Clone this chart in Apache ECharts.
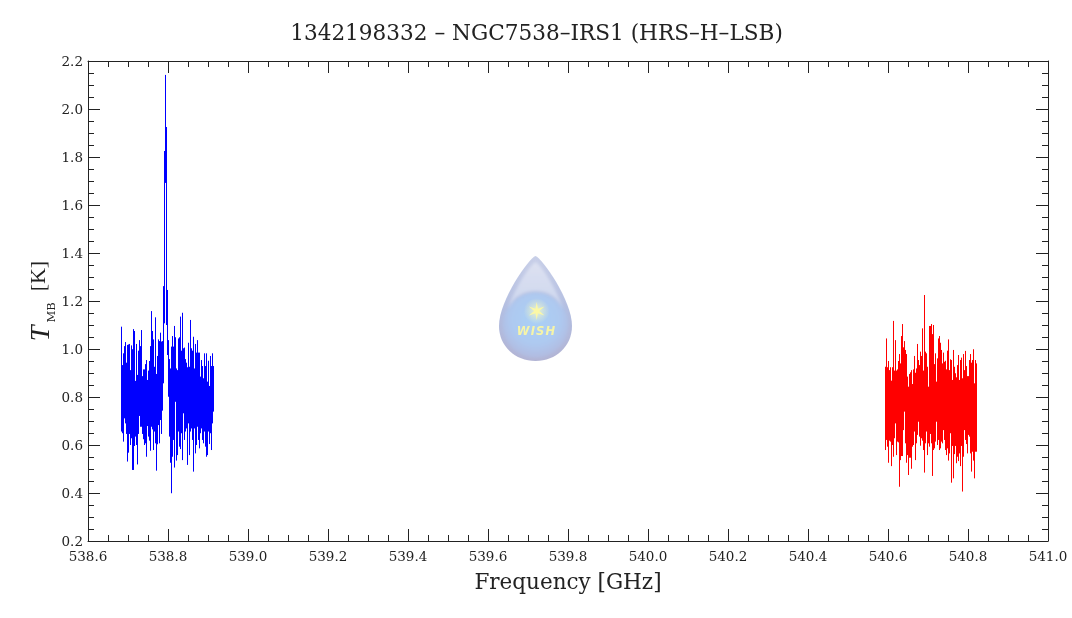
<!DOCTYPE html>
<html><head><meta charset="utf-8">
<style>html,body{margin:0;padding:0;background:#fff}#c{width:1072px;height:618px}</style>
<script src="https://cdn.jsdelivr.net/npm/echarts@6/dist/echarts.min.js"></script>
</head><body><div id="c"></div>
<script>
const chartTitle = '1342198332 – NGC7538–IRS1 (HRS–H–LSB)';
const xName = 'Frequency [GHz]';

const blueFreq = [538.68375,538.68625,538.68875,538.69125,538.69375,538.69625,538.69875,538.70125,538.70375,538.70625,
538.70875,538.71125,538.71375,538.71625,538.71875,538.72125,538.72375,538.72625,538.72875,538.73125,
538.73375,538.73625,538.73875,538.74125,538.74375,538.74625,538.74875,538.75125,538.75375,538.75625,
538.75875,538.76125,538.76375,538.76625,538.76875,538.77125,538.77375,538.77625,538.77875,538.78125,
538.78375,538.78625,538.78875,538.79125,538.79375,538.79625,538.79875,538.80125,538.80375,538.80625,
538.80875,538.81125,538.81375,538.81625,538.81875,538.82125,538.82375,538.82625,538.82875,538.83125,
538.83375,538.83625,538.83875,538.84125,538.84375,538.84625,538.84875,538.85125,538.85375,538.85625,
538.85875,538.86125,538.86375,538.86625,538.86875,538.87125,538.87375,538.87625,538.87875,538.88125,
538.88375,538.88625,538.88875,538.89125,538.89375,538.89625,538.89875,538.90125,538.90375,538.90625,
538.90875,538.91125,538.91375];
const blueHigh = [1.093,0.933,0.982,1.012,1.029,0.943,1.017,1.019,1.021,0.912,
1.015,0.999,1.083,1.075,0.867,1.021,0.892,0.993,1.037,1.012,
1.079,0.887,0.915,0.915,0.937,0.954,0.871,0.910,0.950,1.012,
1.158,1.075,1.040,0.926,1.132,0.896,0.971,1.040,1.033,1.068,
1.031,1.033,1.262,1.825,2.142,1.925,1.246,1.037,0.958,0.919,
1.010,1.054,1.010,1.096,1.049,0.919,0.912,1.044,1.049,1.135,
0.993,1.151,1.003,1.006,0.958,0.943,0.924,1.026,0.926,1.121,
1.003,0.993,1.051,0.919,1.021,0.985,1.037,0.985,0.985,0.885,
0.954,0.929,0.878,0.982,0.929,0.982,0.864,0.951,0.846,0.971,
0.929,0.982,0.929];
const blueLow = [0.656,0.649,0.614,0.711,0.690,0.646,0.531,0.568,0.646,0.600,
0.628,0.496,0.496,0.596,0.635,0.600,0.519,0.646,0.721,0.676,
0.676,0.646,0.624,0.600,0.607,0.551,0.679,0.635,0.618,0.576,
0.676,0.665,0.579,0.656,0.607,0.493,0.603,0.683,0.607,0.704,
0.646,0.743,0.857,1.107,1.692,1.100,0.975,0.801,0.635,0.526,
0.399,0.551,0.621,0.506,0.780,0.535,0.558,0.656,0.593,0.583,
0.649,0.537,0.732,0.621,0.656,0.669,0.517,0.690,0.558,0.656,
0.669,0.621,0.489,0.669,0.565,0.600,0.676,0.621,0.586,0.649,
0.669,0.621,0.607,0.656,0.593,0.551,0.558,0.656,0.604,0.649,
0.579,0.690,0.739];

const redFreq = [540.59375,540.59625,540.59875,540.60125,540.60375,540.60625,540.60875,540.61125,540.61375,540.61625,
540.61875,540.62125,540.62375,540.62625,540.62875,540.63125,540.63375,540.63625,540.63875,540.64125,
540.64375,540.64625,540.64875,540.65125,540.65375,540.65625,540.65875,540.66125,540.66375,540.66625,
540.66875,540.67125,540.67375,540.67625,540.67875,540.68125,540.68375,540.68625,540.68875,540.69125,
540.69375,540.69625,540.69875,540.70125,540.70375,540.70625,540.70875,540.71125,540.71375,540.71625,
540.71875,540.72125,540.72375,540.72625,540.72875,540.73125,540.73375,540.73625,540.73875,540.74125,
540.74375,540.74625,540.74875,540.75125,540.75375,540.75625,540.75875,540.76125,540.76375,540.76625,
540.76875,540.77125,540.77375,540.77625,540.77875,540.78125,540.78375,540.78625,540.78875,540.79125,
540.79375,540.79625,540.79875,540.80125,540.80375,540.80625,540.80875,540.81125,540.81375,540.81625,
540.81875,540.82125];
const redHigh = [0.926,1.044,0.924,0.950,0.912,0.924,0.868,0.924,1.117,0.910,
1.037,0.910,0.915,0.950,0.979,0.940,1.054,1.104,1.007,1.033,
0.996,0.979,0.885,0.843,0.896,0.903,0.912,0.854,0.915,0.971,
0.901,0.919,1.021,0.954,0.933,0.989,0.971,1.086,0.910,1.225,
0.989,0.982,0.926,0.843,1.096,1.096,1.104,1.062,1.100,0.937,
0.982,0.864,0.961,1.044,1.054,1.026,0.996,0.940,0.985,0.947,
0.951,0.915,0.993,1.040,0.912,0.957,0.954,0.871,0.996,0.926,
0.899,0.882,0.933,0.975,0.871,0.954,0.964,0.878,0.979,0.912,
0.992,0.929,0.887,0.887,0.954,0.979,0.943,0.954,0.999,0.857,
0.954,0.940];
const redLow = [0.579,0.621,0.593,0.526,0.618,0.614,0.512,0.600,0.551,0.628,
0.690,0.558,0.614,0.611,0.426,0.537,0.554,0.554,0.662,0.739,
0.607,0.526,0.558,0.475,0.547,0.547,0.501,0.593,0.600,0.656,
0.537,0.607,0.642,0.697,0.635,0.597,0.628,0.618,0.579,0.485,
0.607,0.656,0.558,0.607,0.593,0.646,0.607,0.471,0.579,0.586,
0.614,0.697,0.600,0.621,0.579,0.586,0.614,0.607,0.662,0.621,
0.579,0.558,0.586,0.535,0.565,0.649,0.443,0.596,0.461,0.562,
0.596,0.524,0.551,0.533,0.565,0.512,0.596,0.406,0.551,0.662,
0.621,0.604,0.565,0.642,0.635,0.565,0.489,0.572,0.535,0.461,
0.572,0.572];

function columns(freq, high, low) {
  const out = [];
  freq.forEach((f, i) => { out.push([f, low[i]], [f, high[i]], [f, null]); });
  return out;
}

const FONT = '"DejaVu Serif", serif';
const INK = '#222222';
const xBase = {
  type: 'value', min: 538.6, max: 541.0, interval: 0.2,
  splitLine: { show: false },
  axisLine: { show: true, onZero: false, lineStyle: { color: INK, width: 1 } },
  axisTick: { show: true, inside: true, length: 12, lineStyle: { color: INK, width: 1 } },
  minorTick: { show: true, splitNumber: 4, length: 6, lineStyle: { color: INK, width: 1 } }
};
const yBase = {
  type: 'value', min: 0.2, max: 2.2, interval: 0.2,
  splitLine: { show: false },
  axisLine: { show: true, onZero: false, lineStyle: { color: INK, width: 1 } },
  axisTick: { show: true, inside: true, length: 12, lineStyle: { color: INK, width: 1 } },
  minorTick: { show: true, splitNumber: 4, length: 6, lineStyle: { color: INK, width: 1 } }
};

const logoSvg = `<svg xmlns="http://www.w3.org/2000/svg" width="73" height="105" viewBox="0 0 73 105">
<defs>
<linearGradient id="a" x1="0" y1="0" x2="0" y2="1"><stop offset="0" stop-color="#c8cfe8"/><stop offset="0.55" stop-color="#b2bde0"/><stop offset="1" stop-color="#b2b4d4"/></linearGradient>
<radialGradient id="b" cx="0.5" cy="0.42" r="0.62"><stop offset="0" stop-color="#a9d0f6"/><stop offset="0.6" stop-color="#aec9f0"/><stop offset="1" stop-color="#b2b8dc"/></radialGradient>
<linearGradient id="h" x1="0" y1="0" x2="0" y2="1"><stop offset="0" stop-color="#dde1f1"/><stop offset="1" stop-color="#ccd6ee"/></linearGradient>
<radialGradient id="g"><stop offset="0" stop-color="#fbfbc0" stop-opacity="0.8"/><stop offset="1" stop-color="#fbfbc0" stop-opacity="0"/></radialGradient>
<filter id="s" x="-20%" y="-20%" width="140%" height="140%"><feGaussianBlur stdDeviation="1.5"/></filter>
</defs>
<path fill="url(#a)" d="M36.5 0C30 2 0 44 0 70C0 90 16 105 36.5 105C57 105 73 90 73 70C73 44 43 2 36.5 0Z"/>
<circle cx="36.5" cy="69" r="33" fill="url(#b)" filter="url(#s)"/>
<path fill="url(#h)" filter="url(#s)" d="M36.5 6C31 8 13 37 9 53C15 40 25 35 36.5 35C48 35 58 40 64 53C60 37 42 8 36.5 6Z"/>
<circle cx="37.7" cy="55" r="13" fill="url(#g)"/>
<path fill="#fbf8a6" d="M37.7 46L38.95 52.83L45.5 50.5L40.2 55L45.5 59.5L38.95 57.17L37.7 64L36.45 57.17L29.9 59.5L35.2 55L29.9 50.5L36.45 52.83Z"/>
</svg>`;

const chart = echarts.init(document.getElementById('c'), null, { renderer: 'canvas' });
chart.setOption({
  animation: false,
  backgroundColor: '#ffffff',
  title: {
    text: chartTitle, left: 531.5, top: 18, textAlign: 'center',
    textStyle: { fontFamily: FONT, fontSize: 21.6, fontWeight: 'normal', color: '#222222' }
  },
  grid: { left: 88, right: 24, top: 61, bottom: 77, containLabel: false },
  xAxis: [
    Object.assign({}, xBase, {
      position: 'bottom', name: xName, nameLocation: 'middle', nameGap: 31,
      nameTextStyle: { fontFamily: FONT, fontSize: 21.5, color: '#222222' },
      axisLabel: { fontFamily: FONT, fontSize: 13.5, color: INK, margin: 9, formatter: v => v.toFixed(1) }
    }),
    Object.assign({}, xBase, { position: 'top', axisLabel: { show: false } })
  ],
  yAxis: [
    Object.assign({}, yBase, {
      position: 'left', name: '{t|T}{s|MB}{n|[K]}', nameLocation: 'middle', nameGap: 30, nameRotate: 90,
      nameMoveOverlap: false,
      nameTextStyle: { rich: {
        t: { fontFamily: '"Liberation Serif", serif', fontSize: 28, fontStyle: 'italic', color: '#222222', lineHeight: 30, verticalAlign: 'top', padding: [0, 3, 6, 0] },
        s: { fontFamily: FONT, fontSize: 11.5, color: '#222222', lineHeight: 14, verticalAlign: 'bottom', padding: [0, 11, 0, 0] },
        n: { fontFamily: '"Liberation Serif", serif', fontSize: 22, color: '#222222', lineHeight: 30, verticalAlign: 'top', padding: [0, 0, 6, 0] }
      } },
      axisLabel: { fontFamily: FONT, fontSize: 13.5, color: INK, margin: 5, verticalAlign: 'top', padding: [-5.5, 0, 0, 0], formatter: v => v.toFixed(1) }
    }),
    Object.assign({}, yBase, { position: 'right', axisLabel: { show: false } })
  ],
  series: [
    { type: 'line', name: 'blue', data: columns(blueFreq, blueHigh, blueLow), showSymbol: false, symbol: 'none',
      connectNulls: false, sampling: false, lineStyle: { color: '#0000ff', width: 1 }, silent: true, z: 3 },
    { type: 'line', name: 'red', data: columns(redFreq, redHigh, redLow), showSymbol: false, symbol: 'none',
      connectNulls: false, sampling: false, lineStyle: { color: '#ff0000', width: 1 }, silent: true, z: 3 }
  ],
  graphic: [
    { type: 'image', z: 1, silent: true, x: 499, y: 256,
      style: { image: 'data:image/svg+xml;charset=utf-8,' + encodeURIComponent(logoSvg), width: 73, height: 105 } },
    { type: 'text', z: 2, silent: true, x: 536, y: 332,
      style: { text: 'W\u200aI\u200aS\u200aH', fill: '#f6f4a8', align: 'center', verticalAlign: 'middle',
        font: 'italic bold 11.5px "DejaVu Sans", sans-serif' } }
  ]
});
</script></body></html>
